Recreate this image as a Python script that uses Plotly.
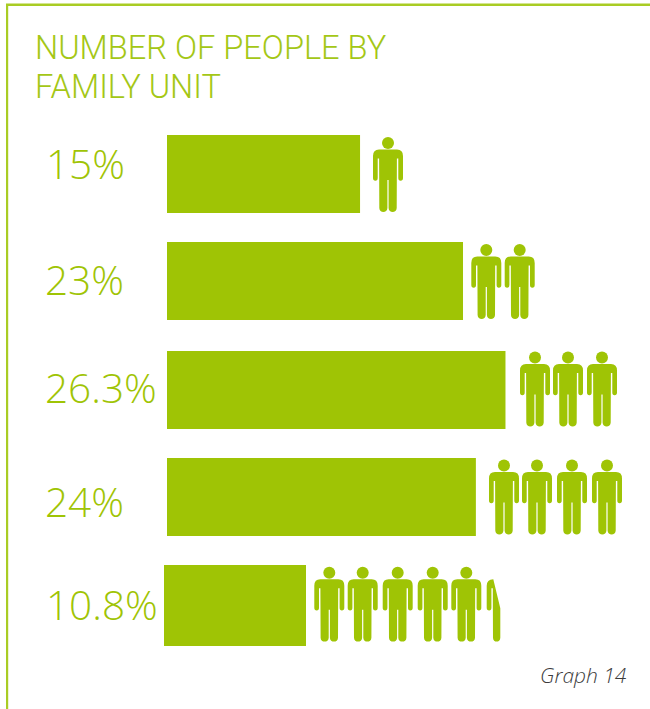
import plotly.graph_objects as go

# Share of households by number of people in the family unit
household_sizes = ["1 person", "2 people", "3 people", "4 people", "5 or more people"]
shares = [15, 23, 26.3, 24, 10.8]
title_lines = ["NUMBER OF PEOPLE BY", "FAMILY UNIT"]
caption = "Graph 14"

WIDTH, HEIGHT = 650, 709
GREEN = "#9fc405"
FRAME = "#a9cc24"

# Layout: bar rows and pictogram placement, in page pixels
ROW_CENTRES = [174, 281, 390, 497, 605.5]
ROW_HEIGHTS = [78, 78, 78, 78, 81]
LABEL_Y = [164, 279.5, 387, 501.5, 604.5]
LABEL_X = [44, 43, 43, 43, 44]
BAR_LEFT = 167
PX_PER_PCT = 12.87
PEOPLE = [
    (137, [388]),
    (244, [486.3, 519.7]),
    (351.5, [535, 568, 602]),
    (459.5, [504, 537, 572, 607]),
    (566.7, [329.3, 362.7, 397.7, 432.7, 466.3]),
]
CUT_PERSON = (501.7, 566.7)


def px(x):
    return x / WIDTH


def py(y):
    return 1 - y / HEIGHT


def to_path(commands, cx, top):
    """Turn (letter, dx, dy, ...) commands into a paper-coordinate SVG path."""
    out = []
    for cmd in commands:
        letter, nums = cmd[0], cmd[1:]
        pts = []
        for i in range(0, len(nums), 2):
            pts.append(f"{px(cx + nums[i]):.5f},{py(top + nums[i + 1]):.5f}")
        out.append(letter + " ".join(pts))
    return " ".join(out) + " Z"


BODY = [
    ("M", -9, 12.5), ("L", 9, 12.5), ("Q", 15, 12.5, 15, 19), ("L", 15, 41),
    ("Q", 15, 43.7, 12.6, 43.7), ("Q", 10.3, 43.7, 10.3, 41), ("L", 10.3, 21.5),
    ("L", 8.9, 21.5), ("L", 8.7, 71), ("C", 8.7, 76.2, 0.6, 76.2, 0.6, 71),
    ("L", 0.6, 43), ("L", -0.6, 43), ("L", -0.6, 71), ("C", -0.6, 76.2, -8.7, 76.2, -8.7, 71),
    ("L", -8.9, 21.5), ("L", -10.3, 21.5), ("L", -10.3, 41),
    ("Q", -10.3, 43.7, -12.6, 43.7), ("Q", -15, 43.7, -15, 41), ("L", -15, 19),
    ("Q", -15, 12.5, -9, 12.5),
]
# The fractional figure at the end of the last row, sliced on a diagonal
SLICED_BODY = [
    ("M", -8.4, 12.6), ("L", -1.4, 41.6), ("L", -1.4, 71), ("C", -1.4, 76.2, -8.7, 76.2, -8.7, 71),
    ("L", -8.9, 21.5), ("L", -10.3, 21.5), ("L", -10.3, 41),
    ("Q", -10.3, 43.7, -12.6, 43.7), ("Q", -15, 43.7, -15, 41), ("L", -15, 19),
    ("Q", -15, 13, -8.4, 12.6),
]


def filled(path):
    return dict(type="path", xref="paper", yref="paper", path=path,
                fillcolor=GREEN, line=dict(width=0), layer="above")


shapes = [
    # Frame: top and left rules
    dict(type="rect", xref="paper", yref="paper", x0=px(6), x1=px(8.2), y0=0, y1=py(4),
         fillcolor=FRAME, line=dict(width=0)),
    dict(type="rect", xref="paper", yref="paper", x0=px(6), x1=1, y0=py(6), y1=py(3.6),
         fillcolor=FRAME, line=dict(width=0)),
    # The last bar sits slightly further left than the others
    dict(type="rect", xref="paper", yref="paper", x0=px(164), x1=px(BAR_LEFT + 1),
         y0=py(ROW_CENTRES[4] - ROW_HEIGHTS[4] / 2), y1=py(ROW_CENTRES[4] + ROW_HEIGHTS[4] / 2),
         fillcolor=GREEN, line=dict(width=0)),
]
for top, centres in PEOPLE:
    for cx in centres:
        shapes.append(dict(type="circle", xref="paper", yref="paper",
                           x0=px(cx - 6), x1=px(cx + 6), y0=py(top + 12), y1=py(top),
                           fillcolor=GREEN, line=dict(width=0)))
        shapes.append(filled(to_path(BODY, cx, top)))
shapes.append(filled(to_path(SLICED_BODY, *CUT_PERSON)))

annotations = []
for i, line in enumerate(title_lines):
    annotations.append(dict(text=line, xref="paper", yref="paper", x=px(32.5), y=py(48 + 39 * i),
                            xanchor="left", yanchor="middle", showarrow=False,
                            font=dict(family="Roboto", size=32.6, color="#a4c716", weight=300)))
for value, x, y in zip(shares, LABEL_X, LABEL_Y):
    annotations.append(dict(text=f"{value}%", xref="paper", yref="paper", x=px(x), y=py(y),
                            xanchor="left", yanchor="middle", showarrow=False,
                            font=dict(family="Open Sans", size=40.5, color=GREEN, weight=300)))
annotations.append(dict(text=f"<i>{caption}</i>", xref="paper", yref="paper", x=px(629), y=py(675),
                        xanchor="right", yanchor="middle", showarrow=False,
                        font=dict(family="Open Sans", size=21, color="#3c3c3c", weight=300)))

fig = go.Figure(go.Bar(
    x=shares,
    y=ROW_CENTRES,
    width=ROW_HEIGHTS,
    orientation="h",
    marker=dict(color=GREEN, line=dict(width=0)),
    customdata=household_sizes,
    hovertemplate="%{customdata}: %{x}%<extra></extra>",
))
fig.update_layout(
    width=WIDTH,
    height=HEIGHT,
    autosize=False,
    margin=dict(l=0, r=0, t=0, b=0),
    paper_bgcolor="white",
    plot_bgcolor="white",
    showlegend=False,
    shapes=shapes,
    annotations=annotations,
    xaxis=dict(visible=False, range=[-BAR_LEFT / PX_PER_PCT, (WIDTH - BAR_LEFT) / PX_PER_PCT]),
    yaxis=dict(visible=False, range=[HEIGHT, 0]),
)
fig.write_html("out.html", config=dict(displayModeBar=False))
